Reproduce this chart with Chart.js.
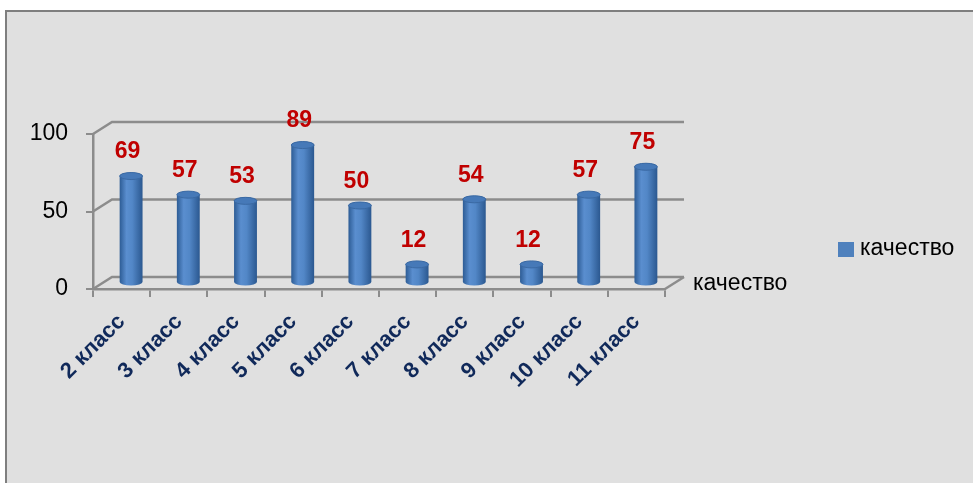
<!DOCTYPE html>
<html>
<head>
<meta charset="utf-8">
<script src="https://cdn.jsdelivr.net/npm/chart.js@4"></script>
<style>
  html, body { margin: 0; padding: 0; background: #fff; }
  canvas { display: block; }
</style>
</head>
<body>
<canvas id="chart" width="973" height="483" style="width:973px;height:483px"></canvas>
<script>
const categories = ['2 класс', '3 класс', '4 класс', '5 класс', '6 класс', '7 класс', '8 класс', '9 класс', '10 класс', '11 класс'];
const quality = [69, 57, 53, 89, 50, 12, 54, 12, 57, 75];
const yTicks = [0, 50, 100];
const seriesName = 'качество';

// 3d look: how far the back wall sits from the front axes
const DX = 19, DY = -12;
const FONT = "'Liberation Sans', Arial, sans-serif";
const GRID = '#8c8c8c';

Chart.defaults.font.family = FONT;

function drawCylinder(ctx, x, top, base, w) {
  const rx = w / 2, ry = 3.5;
  const g = ctx.createLinearGradient(x - rx, 0, x + rx, 0);
  g.addColorStop(0, '#2d5c95');
  g.addColorStop(0.3, '#5a8ecf');
  g.addColorStop(0.55, '#5287c7');
  g.addColorStop(1, '#2b5890');
  ctx.fillStyle = g;
  ctx.beginPath();
  ctx.moveTo(x - rx, top);
  ctx.lineTo(x - rx, base);
  ctx.ellipse(x, base, rx, ry, 0, Math.PI, 0, true);
  ctx.lineTo(x + rx, top);
  ctx.ellipse(x, top, rx, ry, 0, 0, Math.PI, true);
  ctx.closePath();
  ctx.fill();
  // top cap
  ctx.beginPath();
  ctx.ellipse(x, top, rx, ry, 0, 0, Math.PI * 2);
  ctx.fillStyle = '#4679b8';
  ctx.fill();
  ctx.strokeStyle = '#3a69a3';
  ctx.lineWidth = 1;
  ctx.stroke();
}

const frame = {
  id: 'frame',
  beforeDraw(chart) {
    const ctx = chart.ctx;
    ctx.save();
    ctx.fillStyle = '#fff';
    ctx.fillRect(0, 0, chart.width, chart.height);
    ctx.fillStyle = '#e0e0e0';
    ctx.fillRect(5, 10, chart.width - 5, chart.height - 10);
    ctx.strokeStyle = '#7f7f7f';
    ctx.lineWidth = 2;
    ctx.beginPath();
    ctx.moveTo(6, chart.height);
    ctx.lineTo(6, 11);
    ctx.lineTo(chart.width, 11);
    ctx.stroke();
    ctx.restore();
  }
};

const walls = {
  id: 'walls',
  beforeDatasetsDraw(chart) {
    const ctx = chart.ctx;
    const y = chart.scales.y, a = chart.chartArea;
    ctx.save();
    ctx.strokeStyle = GRID;
    ctx.lineWidth = 2.5;
    yTicks.forEach(v => {
      const py = y.getPixelForValue(v);
      ctx.beginPath();
      ctx.moveTo(a.left, py);
      ctx.lineTo(a.left + DX, py + DY);
      ctx.lineTo(a.right + DX, py + DY);
      ctx.stroke();
    });
    const p0 = y.getPixelForValue(0);
    ctx.beginPath();
    ctx.moveTo(a.right, p0);
    ctx.lineTo(a.right + DX, p0 + DY);
    ctx.stroke();
    ctx.restore();
  },
  afterDatasetsDraw(chart) {
    const ctx = chart.ctx;
    const meta = chart.getDatasetMeta(0);
    ctx.save();
    ctx.translate(DX / 2, DY / 2);
    meta.data.forEach(bar => {
      drawCylinder(ctx, bar.x, bar.y, bar.base, bar.width);
    });
    ctx.restore();

    ctx.save();
    ctx.font = 'bold 23px ' + FONT;
    ctx.fillStyle = '#c00000';
    ctx.textAlign = 'center';
    ctx.textBaseline = 'middle';
    meta.data.forEach((bar, i) => {
      ctx.fillText(String(quality[i]), bar.x + 6, bar.y - 30);
    });
    ctx.restore();
  },
  afterDraw(chart) {
    const ctx = chart.ctx;
    const a = chart.chartArea;
    const p0 = chart.scales.y.getPixelForValue(0);
    ctx.save();
    ctx.font = '23px ' + FONT;
    ctx.fillStyle = '#000';
    ctx.textBaseline = 'middle';
    // depth (series) axis label
    ctx.fillText(seriesName, a.right + DX + 9, p0 - 5);
    // legend
    ctx.fillStyle = '#4f81bd';
    ctx.fillRect(838, 242, 16, 15);
    ctx.fillStyle = '#000';
    ctx.fillText(seriesName, 860, 249);
    ctx.restore();
  }
};

new Chart(document.getElementById('chart'), {
  type: 'bar',
  data: {
    labels: categories,
    datasets: [{
      label: seriesName,
      data: quality,
      backgroundColor: 'rgba(0,0,0,0)',
      borderWidth: 0,
      barPercentage: 0.4,
      categoryPercentage: 1
    }]
  },
  plugins: [frame, walls],
  options: {
    responsive: false,
    animation: false,
    devicePixelRatio: 1,
    layout: { padding: { top: 134, right: 308, left: 0, bottom: 0 } },
    plugins: {
      legend: { display: false },
      tooltip: { enabled: false }
    },
    scales: {
      x: {
        offset: true,
        afterFit(scale) { scale.height = 194; },
        grid: {
          offset: true,
          drawOnChartArea: false,
          drawTicks: true,
          tickLength: 8,
          color: GRID,
          lineWidth: 2
        },
        border: { display: true, color: GRID, width: 2.5 },
        ticks: {
          autoSkip: false,
          minRotation: 45,
          maxRotation: 45,
          padding: 12,
          color: '#10295a',
          font: { size: 22, weight: 'bold' }
        }
      },
      y: {
        min: 0,
        max: 100,
        afterFit(scale) { scale.width = 93; },
        afterBuildTicks(scale) { scale.ticks = yTicks.map(v => ({ value: v })); },
        grid: {
          drawOnChartArea: false,
          drawTicks: true,
          tickLength: 7,
          color: GRID,
          lineWidth: 2
        },
        border: { display: true, color: GRID, width: 2.5 },
        ticks: {
          padding: 18,
          color: '#000',
          font: { size: 23 }
        }
      }
    }
  }
});
</script>
</body>
</html>
